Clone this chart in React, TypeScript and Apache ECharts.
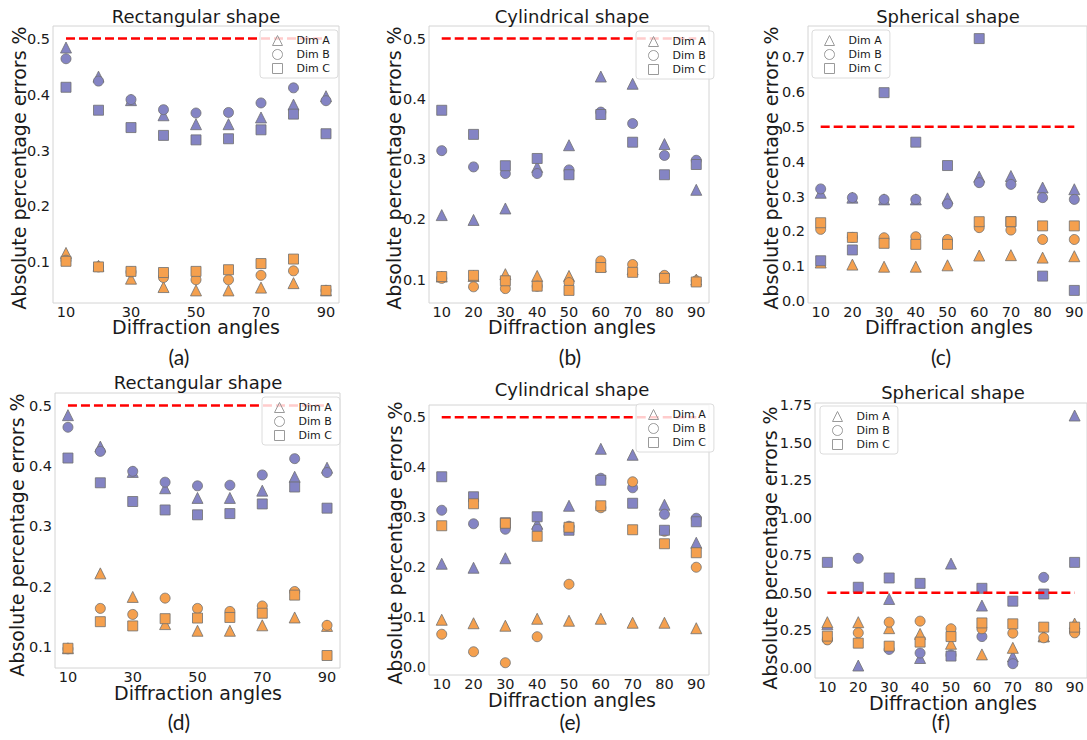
import { useEffect, useRef } from "react";
import * as echarts from "echarts";

// Diffraction angles (degrees) shared by every panel
const angles = [10, 20, 30, 40, 50, 60, 70, 80, 90];
const threshold = 0.5;

// Rectangular shape – purple set (identical in panels a and d)
const rectPurpleA = [0.484, 0.432, 0.39, 0.363, 0.347, 0.347, 0.359, 0.382, 0.397];
const rectPurpleB = [0.464, 0.424, 0.391, 0.373, 0.367, 0.368, 0.385, 0.412, 0.389];
const rectPurpleC = [0.413, 0.372, 0.341, 0.327, 0.319, 0.321, 0.337, 0.365, 0.33];
// Rectangular shape – orange set, panel a
const rectOrangeA1 = [0.117, 0.094, 0.071, 0.056, 0.05, 0.05, 0.055, 0.063, 0.05];
const rectOrangeB1 = [0.104, 0.092, 0.083, 0.073, 0.069, 0.069, 0.077, 0.085, 0.05];
const rectOrangeC1 = [0.102, 0.092, 0.084, 0.082, 0.084, 0.087, 0.098, 0.106, 0.05];
// Rectangular shape – orange set, panel d
const rectOrangeA2 = [0.098, 0.222, 0.183, 0.138, 0.127, 0.127, 0.136, 0.149, 0.135];
const rectOrangeB2 = [0.097, 0.164, 0.154, 0.181, 0.164, 0.159, 0.168, 0.192, 0.136];
const rectOrangeC2 = [0.098, 0.142, 0.135, 0.147, 0.148, 0.149, 0.156, 0.186, 0.086];

// Cylindrical shape – purple set (identical in panels b and e)
const cylPurpleA = [0.207, 0.199, 0.218, 0.287, 0.323, 0.437, 0.425, 0.325, 0.249];
const cylPurpleB = [0.314, 0.287, 0.276, 0.276, 0.282, 0.378, 0.359, 0.306, 0.298];
const cylPurpleC = [0.381, 0.341, 0.289, 0.301, 0.274, 0.374, 0.328, 0.274, 0.291];
// Cylindrical shape – orange set, panel b
const cylOrangeA1 = [0.105, 0.106, 0.109, 0.106, 0.106, 0.122, 0.117, 0.105, 0.1];
const cylOrangeB1 = [0.102, 0.088, 0.085, 0.089, 0.095, 0.131, 0.125, 0.107, 0.098];
const cylOrangeC1 = [0.105, 0.107, 0.098, 0.089, 0.082, 0.12, 0.112, 0.102, 0.096];
// Cylindrical shape – orange set, panel e
const cylOrangeA2 = [0.095, 0.088, 0.083, 0.097, 0.093, 0.097, 0.089, 0.089, 0.078];
const cylOrangeB2 = [0.066, 0.031, 0.009, 0.061, 0.166, 0.319, 0.371, 0.272, 0.2];
const cylOrangeC2 = [0.283, 0.327, 0.288, 0.262, 0.28, 0.323, 0.275, 0.247, 0.229];

// Spherical shape – panel c
const sphPurpleA1 = [0.311, 0.297, 0.292, 0.292, 0.295, 0.357, 0.359, 0.326, 0.321];
const sphPurpleB1 = [0.322, 0.297, 0.292, 0.292, 0.279, 0.34, 0.335, 0.297, 0.292];
const sphPurpleC1 = [0.116, 0.147, 0.598, 0.456, 0.389, 0.753, 0.228, 0.072, 0.031];
const sphOrangeA1 = [0.111, 0.105, 0.099, 0.099, 0.103, 0.131, 0.132, 0.125, 0.129];
const sphOrangeB1 = [0.206, 0.183, 0.182, 0.185, 0.177, 0.211, 0.204, 0.177, 0.177];
const sphOrangeC1 = [0.225, 0.183, 0.166, 0.163, 0.163, 0.228, 0.228, 0.216, 0.216];
// Spherical shape – panel f
const sphPurpleA2 = [0.29, 0.015, 0.459, 0.065, 0.695, 0.415, 0.075, 0.21, 1.683];
const sphPurpleB2 = [0.19, 0.73, 0.122, 0.098, 0.085, 0.208, 0.027, 0.603, 0.24];
const sphPurpleC2 = [0.703, 0.537, 0.599, 0.563, 0.078, 0.53, 0.444, 0.492, 0.703];
const sphOrangeA2 = [0.304, 0.304, 0.264, 0.226, 0.16, 0.089, 0.133, 0.21, 0.295];
const sphOrangeB2 = [0.186, 0.233, 0.304, 0.311, 0.26, 0.26, 0.231, 0.2, 0.233];
const sphOrangeC2 = [0.211, 0.164, 0.144, 0.171, 0.208, 0.299, 0.293, 0.271, 0.271];

// Tick labels
const xTicksSparse = [10, 30, 50, 70, 90];
const xTicksDense = [10, 20, 30, 40, 50, 60, 70, 80, 90];
const yTicksRect = [0.1, 0.2, 0.3, 0.4, 0.5];
const yTicksCylTop = [0.1, 0.2, 0.3, 0.4, 0.5];
const yTicksCylBottom = [0.0, 0.1, 0.2, 0.3, 0.4, 0.5];
const yTicksSphTop = [0.0, 0.1, 0.2, 0.3, 0.4, 0.5, 0.6, 0.7];
const yTicksSphBottom = [0.0, 0.25, 0.5, 0.75, 1.0, 1.25, 1.5, 1.75];

const dimNames = ["Dim A", "Dim B", "Dim C"];
const dimSymbols = ["triangle", "circle", "rect"];

const PURPLE = "#8484c4";
const ORANGE = "#f5a04e";
const FONT = "DejaVu Sans";

type Panel = {
  label: string;
  title: string;
  purple: number[][];
  orange: number[][];
  xTicks: number[];
  yTicks: number[];
  decimals: number;
  grid: { left: number; top: number; width: number; height: number };
  titlePos: [number, number];
  xNamePos: [number, number];
  yNamePos: [number, number];
  labelPos: [number, number];
  legendPos: [number, number];
};

const panels: Panel[] = [
  {
    label: "(a)", title: "Rectangular shape",
    purple: [rectPurpleA, rectPurpleB, rectPurpleC],
    orange: [rectOrangeA1, rectOrangeB1, rectOrangeC1],
    xTicks: xTicksSparse, yTicks: yTicksRect, decimals: 1,
    grid: { left: 53, top: 26, width: 286, height: 277 },
    titlePos: [196, 16], xNamePos: [196, 327], yNamePos: [19, 168],
    labelPos: [179, 356], legendPos: [260, 30],
  },
  {
    label: "(b)", title: "Cylindrical shape",
    purple: [cylPurpleA, cylPurpleB, cylPurpleC],
    orange: [cylOrangeA1, cylOrangeB1, cylOrangeC1],
    xTicks: xTicksDense, yTicks: yTicksCylTop, decimals: 1,
    grid: { left: 429, top: 26, width: 280, height: 277 },
    titlePos: [572, 16], xNamePos: [572, 327], yNamePos: [394, 168],
    labelPos: [570, 356], legendPos: [636, 31],
  },
  {
    label: "(c)", title: "Spherical shape",
    purple: [sphPurpleA1, sphPurpleB1, sphPurpleC1],
    orange: [sphOrangeA1, sphOrangeB1, sphOrangeC1],
    xTicks: xTicksDense, yTicks: yTicksSphTop, decimals: 1,
    grid: { left: 808, top: 26, width: 283, height: 277 },
    titlePos: [948, 16], xNamePos: [949, 327], yNamePos: [771, 168],
    labelPos: [941, 356], legendPos: [812, 30],
  },
  {
    label: "(d)", title: "Rectangular shape",
    purple: [rectPurpleA, rectPurpleB, rectPurpleC],
    orange: [rectOrangeA2, rectOrangeB2, rectOrangeC2],
    xTicks: xTicksSparse, yTicks: yTicksRect, decimals: 1,
    grid: { left: 55, top: 393, width: 285, height: 275 },
    titlePos: [198, 382], xNamePos: [198, 693], yNamePos: [17, 535],
    labelPos: [179, 721], legendPos: [262, 397],
  },
  {
    label: "(e)", title: "Cylindrical shape",
    purple: [cylPurpleA, cylPurpleB, cylPurpleC],
    orange: [cylOrangeA2, cylOrangeB2, cylOrangeC2],
    xTicks: xTicksDense, yTicks: yTicksCylBottom, decimals: 1,
    grid: { left: 429, top: 405, width: 280, height: 270 },
    titlePos: [572, 389], xNamePos: [572, 700], yNamePos: [395, 543],
    labelPos: [570, 721], legendPos: [636, 404],
  },
  {
    label: "(f)", title: "Spherical shape",
    purple: [sphPurpleA2, sphPurpleB2, sphPurpleC2],
    orange: [sphOrangeA2, sphOrangeB2, sphOrangeC2],
    xTicks: xTicksDense, yTicks: yTicksSphBottom, decimals: 2,
    grid: { left: 815, top: 403, width: 276, height: 275 },
    titlePos: [953, 392], xNamePos: [953, 703], yNamePos: [770, 548],
    labelPos: [941, 721], legendPos: [820, 406],
  },
];

function buildOption() {
  const grid: any[] = [];
  const xAxis: any[] = [];
  const yAxis: any[] = [];
  const series: any[] = [];
  const legend: any[] = [];
  const graphic: any[] = [];

  panels.forEach((p, gi) => {
    grid.push({
      ...p.grid,
      show: true,
      borderColor: "#d4d4d4",
      borderWidth: 1,
      backgroundColor: "#fff",
      containLabel: false,
    });

    const all = [...p.purple.flat(), ...p.orange.flat(), threshold];
    const lo = Math.min(...all);
    const hi = Math.max(...all);
    const pad = (hi - lo) * 0.05;
    const xPad = (angles[angles.length - 1] - angles[0]) * 0.05;

    xAxis.push({
      type: "value",
      gridIndex: gi,
      min: angles[0] - xPad,
      max: angles[angles.length - 1] + xPad,
      axisLine: { show: false },
      axisTick: { show: false },
      splitLine: { show: false },
      axisLabel: {
        customValues: p.xTicks,
        margin: 2,
        fontSize: 14.5,
        lineHeight: 13,
        fontFamily: FONT,
        color: "#1a1a1a",
      },
    });
    yAxis.push({
      type: "value",
      gridIndex: gi,
      min: lo - pad,
      max: hi + pad,
      axisLine: { show: false },
      axisTick: { show: false },
      splitLine: { show: false },
      axisLabel: {
        customValues: p.yTicks,
        formatter: (v: number) => v.toFixed(p.decimals),
        margin: 3,
        fontSize: 14.5,
        lineHeight: 13,
        fontFamily: FONT,
        color: "#1a1a1a",
      },
    });

    // draw order: Dim A purple, Dim A orange, Dim B purple, ...
    dimNames.forEach((name, di) => {
      [
        { values: p.purple[di], color: PURPLE },
        { values: p.orange[di], color: ORANGE },
      ].forEach((s) => {
        series.push({
          type: "scatter",
          name,
          xAxisIndex: gi,
          yAxisIndex: gi,
          symbol: dimSymbols[di],
          symbolSize: di === 0 ? 11 : 10,
          data: angles.map((a, i) => [a, s.values[i]]),
          itemStyle: { color: s.color, borderColor: "#707070", borderWidth: 0.8, opacity: 1 },
          emphasis: { disabled: true },
        });
      });
    });

    series.push({
      type: "line",
      name: "limit",
      xAxisIndex: gi,
      yAxisIndex: gi,
      data: [
        [angles[0], threshold],
        [angles[angles.length - 1], threshold],
      ],
      symbol: "none",
      z: 3,
      lineStyle: { color: "#ff0000", width: 2.5, type: [9, 4] },
      emphasis: { disabled: true },
    });

    legend.push({
      left: p.legendPos[0],
      top: p.legendPos[1],
      orient: "vertical",
      selectedMode: false,
      itemWidth: 10,
      itemHeight: 10,
      itemGap: 3,
      padding: [5, 8, 4, 12],
      backgroundColor: "rgba(255,255,255,0.8)",
      borderColor: "#dcdcdc",
      borderWidth: 1,
      borderRadius: 3,
      textStyle: { fontSize: 11, fontFamily: FONT, color: "#1a1a1a", padding: [0, 0, 0, 9] },
      data: dimNames.map((name, di) => ({
        name,
        icon: dimSymbols[di],
        itemStyle: { color: "rgba(0,0,0,0)", borderColor: "#9a9a9a", borderWidth: 1 },
      })),
    });

    const textStyle = (text: string, size: number, lh: number, family = FONT) => ({
      text,
      fontSize: size,
      lineHeight: lh,
      fontFamily: family,
      fill: "#1a1a1a",
      align: "center",
      verticalAlign: "middle",
    });
    graphic.push(
      { type: "text", x: p.titlePos[0], y: p.titlePos[1], style: textStyle(p.title, 18, 18) },
      { type: "text", x: p.xNamePos[0], y: p.xNamePos[1], style: textStyle("Diffraction angles", 19, 17) },
      {
        type: "text",
        x: p.yNamePos[0],
        y: p.yNamePos[1],
        rotation: Math.PI / 2,
        style: textStyle("Absolute percentage errors %", 19, 17),
      },
      { type: "text", x: p.labelPos[0], y: p.labelPos[1], style: textStyle(p.label, 21, 18, "Lato") }
    );
  });

  return {
    animation: false,
    backgroundColor: "#ffffff",
    grid,
    xAxis,
    yAxis,
    series,
    legend,
    graphic,
  };
}

export default function App() {
  const ref = useRef<HTMLDivElement>(null);
  useEffect(() => {
    if (!ref.current) return;
    const chart = echarts.init(ref.current, undefined, { renderer: "svg" });
    chart.setOption(buildOption());
    return () => chart.dispose();
  }, []);
  return (
    <div
      ref={ref}
      style={{ position: "absolute", left: 0, top: 0, width: 1087, height: 740, background: "#fff" }}
    />
  );
}
